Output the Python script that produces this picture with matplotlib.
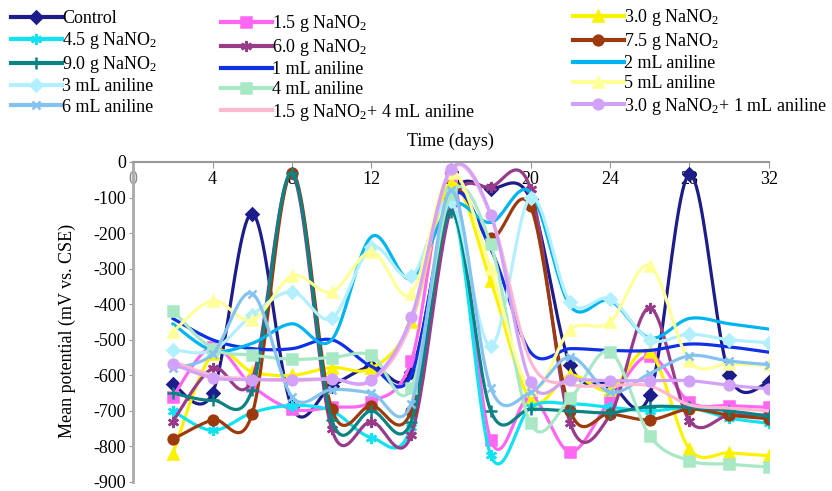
import numpy as np
import matplotlib
matplotlib.use("Agg")
import matplotlib.pyplot as plt
from matplotlib.lines import Line2D

plt.rcParams['font.family'] = ['Liberation Serif', 'DejaVu Serif']
plt.rcParams['mathtext.fontset'] = 'custom'
plt.rcParams['mathtext.rm'] = 'Liberation Serif'
plt.rcParams['mathtext.it'] = 'Liberation Serif:italic'
plt.rcParams['axes.unicode_minus'] = False

# ---- data (mV vs. CSE) ----
days = [2, 4, 6, 8, 10, 12, 14, 16, 18, 20, 22, 24, 26, 28, 30, 32]

control = [-625, -650, -145, -690, -630, -575, -590, -100, -75, -105, -570, -625, -655, -35, -600, -620]
nano_15 = [-660, -520, -630, -695, -690, -675, -560, -40, -782, -660, -815, -670, -545, -675, -685, -690]
nano_30 = [-820, -540, -590, -600, -578, -580, -450, -60, -335, -668, -600, -642, -533, -808, -818, -826]
nano_45 = [-700, -755, -705, -685, -700, -775, -745, -130, -825, -690, -680, -690, -700, -692, -720, -735]
nano_60 = [-730, -580, -610, -35, -752, -730, -768, -130, -70, -75, -735, -712, -410, -728, -712, -712]
nano_75 = [-780, -725, -708, -30, -695, -685, -700, -100, -215, -125, -700, -708, -725, -695, -712, -722]
nano_90 = [-650, -670, -640, -30, -725, -700, -730, -140, -700, -695, -700, -705, -688, -690, -700, -715]
anil_1 = [-440, -500, -525, -525, -500, -575, -600, -100, -245, -535, -525, -530, -530, -512, -520, -535]
anil_2 = [-455, -530, -510, -455, -500, -210, -328, -120, -170, -85, -405, -390, -495, -440, -455, -470]
anil_3 = [-528, -530, -430, -365, -440, -240, -322, -110, -518, -100, -395, -385, -500, -484, -500, -508]
anil_4 = [-418, -525, -543, -555, -550, -543, -637, -90, -232, -735, -665, -533, -770, -840, -850, -858]
anil_5 = [-478, -390, -445, -320, -365, -252, -370, -30, -300, -640, -472, -450, -292, -560, -568, -572]
anil_6 = [-580, -540, -370, -660, -640, -650, -680, -80, -636, -648, -548, -648, -595, -545, -560, -570]
mix_15_4 = [-560, -600, -610, -615, -610, -615, -450, -22, -150, -560, -625, -628, -630, -683, -692, -700]
mix_30_1 = [-568, -607, -612, -612, -610, -612, -437, -20, -148, -618, -612, -615, -615, -615, -628, -638]

ticks_x = [0, 4, 8, 12, 16, 20, 24, 28, 32]
ticks_y = [0, -100, -200, -300, -400, -500, -600, -700, -800, -900]

# name, values, colour, marker, marker size
series = [
    ('Control', control, '#1c1c8a', 'D', 6),
    ('1.5 g NaNO$_2$', nano_15, '#ff66f2', 's', 7),
    ('3.0 g NaNO$_2$', nano_30, '#fbf200', '^', 7),
    ('4.5 g NaNO$_2$', nano_45, '#10e2f2', (6, 2, 0), 8),
    ('6.0 g NaNO$_2$', nano_60, '#983c8a', (6, 2, 0), 8),
    ('7.5 g NaNO$_2$', nano_75, '#9c3a0e', 'o', 7),
    ('9.0 g NaNO$_2$', nano_90, '#0c8282', '+', 8),
    ('1 mL aniline', anil_1, '#1030e6', None, 0),
    ('2 mL aniline', anil_2, '#00b4f0', None, 0),
    ('3 mL aniline', anil_3, '#b2f0ff', 'D', 6),
    ('4 mL aniline', anil_4, '#a8e8c4', 's', 7),
    ('5 mL aniline', anil_5, '#ffff9a', '^', 7),
    ('6 mL aniline', anil_6, '#84c2f0', 'x', 6),
    ('1.5 g NaNO$_2$+ 4 mL aniline', mix_15_4, '#ffb8d2', None, 0),
    ('3.0 g NaNO$_2$+ 1 mL aniline', mix_30_1, '#d2a2f8', 'o', 7),
]


def smooth(x, y, n=24):
    # Excel-style smoothed line (Catmull-Rom as cubic Bezier)
    x = np.asarray(x, float)
    y = np.asarray(y, float)
    px = np.concatenate([[x[0]], x, [x[-1]]])
    py = np.concatenate([[y[0]], y, [y[-1]]])
    t = np.linspace(0, 1, n)[:, None]
    xs, ys = [], []
    for i in range(1, len(px) - 2):
        p1 = np.array([px[i], py[i]])
        p2 = np.array([px[i + 1], py[i + 1]])
        c1 = p1 + (p2 - np.array([px[i - 1], py[i - 1]])) / 6
        c2 = p2 - (np.array([px[i + 2], py[i + 2]]) - p1) / 6
        b = ((1 - t) ** 3) * p1 + 3 * ((1 - t) ** 2) * t * c1 + 3 * (1 - t) * t ** 2 * c2 + t ** 3 * p2
        xs.append(b[:, 0])
        ys.append(b[:, 1])
    return np.concatenate(xs), np.concatenate(ys)


fig = plt.figure(figsize=(8.32, 4.91), dpi=100)
ax = fig.add_axes([133 / 832, 1 - 482 / 491, 636 / 832, 320 / 491])

handles = []
for name, vals, col, mk, ms in series:
    sx, sy = smooth(days, vals)
    ax.plot(sx, sy, color=col, lw=2.3, solid_capstyle='round')
    if mk is not None:
        ax.plot(days, vals, ls='none', marker=mk, ms=ms, color=col, mec=col, mew=1.8)
    handles.append(Line2D([], [], color=col, lw=3, marker=mk, ms=ms, mec=col, mew=1.8, label=name))

ax.set_xlim(0, 32)
ax.set_ylim(-900, 0)
ax.set_xticks(ticks_x)
ax.set_yticks(ticks_y)
ax.set_yticklabels([str(v) for v in ticks_y])
ax.tick_params(axis='x', top=True, bottom=False, labeltop=True, labelbottom=False,
               direction='in', length=4, color='#999999', labelsize=13, pad=-19)
ax.tick_params(axis='y', direction='out', length=3, color='#999999', labelsize=13, pad=2)
ax.get_xticklabels()[0].set_color('#888888')

for s in ['right', 'bottom']:
    ax.spines[s].set_visible(False)
ax.spines['left'].set_color('#aaaaaa')
ax.spines['left'].set_linewidth(2)
ax.spines['top'].set_color('#999999')
ax.spines['top'].set_linewidth(1.5)

ax.text(0.4985, 1.065, 'Time (days)', transform=ax.transAxes, ha='center', va='center', fontsize=13)
fig.text(67 / 832, 1 - 331 / 491, 'Mean potential (mV vs. CSE)', rotation=90,
         ha='center', va='center', fontsize=13)

# legend in three separate columns, series order is row-major
cols = [handles[0::3], handles[1::3], handles[2::3]]
anchors = [(11, 10), (221, 13), (573, 7)]
for hs, (lx, ly) in zip(cols, anchors):
    fig.legend(handles=hs, loc='upper left', bbox_to_anchor=(lx / 832, 1 - ly / 491),
               frameon=False, fontsize=13, handlelength=2.8, handletextpad=0.05,
               labelspacing=0.175, borderpad=0, borderaxespad=0)

fig.savefig('out.png', dpi=100)
